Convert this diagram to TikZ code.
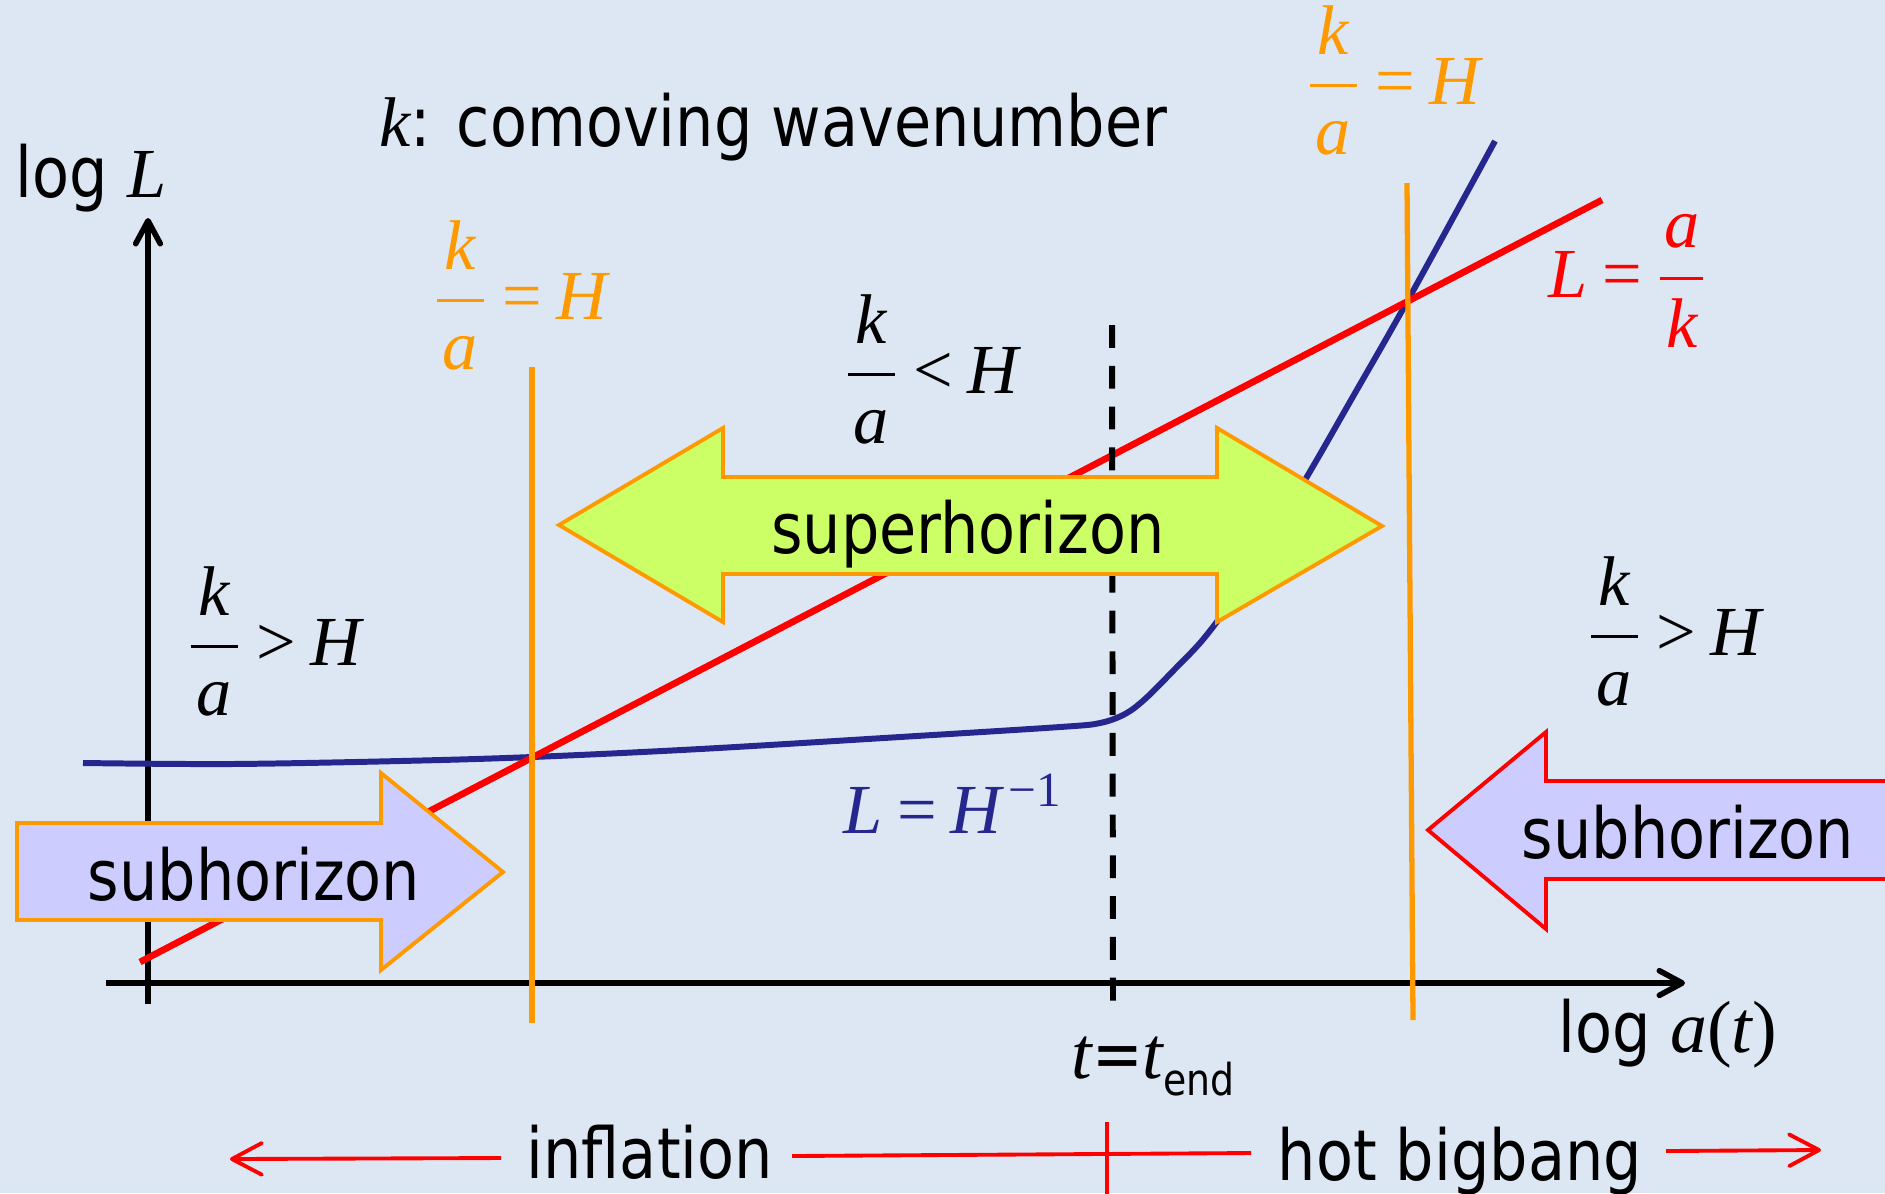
\documentclass[tikz,border=0pt]{standalone}
\usepackage{amsmath}
\usepackage{fontspec}
\setmainfont{DejaVu Sans}[FakeStretch=0.86]
\newfontfamily\tms{Liberation Serif}
\usetikzlibrary{arrows.meta}
\definecolor{bgblue}{RGB}{220,231,243}
\definecolor{org}{RGB}{255,153,0}
\definecolor{hblue}{RGB}{38,38,143}
\definecolor{supgreen}{RGB}{204,255,102}
\definecolor{sublav}{RGB}{204,204,255}
\newcommand\mi[1]{\text{\tms\itshape #1}}
\newcommand\mr[1]{\mskip3.5mu\text{\tms #1}\mskip3.5mu}
\newcommand\kfrac[2]{\dfrac{\mi{#1}}{\kern1.7pt\mi{#2}\kern1.7pt}}
\tikzset{
  lbl/.style={font=\fontsize{20}{24}\selectfont, inner sep=0pt},
  axisline/.style={black, line width=1.6pt, -{Straight Barb[length=6.5pt,width=7pt,round]}},
  horizon/.style={org, line width=1.5pt},
  lcurve/.style={red, line width=1.9pt},
  hcurve/.style={hblue, line width=1.7pt},
  tend/.style={black, line width=1.7pt, dash pattern=on 6.5pt off 5.1pt},
  supbox/.style={fill=supgreen, draw=org, line width=1.1pt, line join=miter},
  subboxL/.style={fill=sublav, draw=org, line width=1.1pt, line join=miter},
  subboxR/.style={fill=sublav, draw=red, line width=1.1pt, line join=miter},
  tline/.style={red, line width=1.1pt},
  tarrow/.style={tline, -{Straight Barb[length=8.5pt,width=9pt,round]}},
}
\begin{document}
\begin{tikzpicture}[x=0.01cm, y=-0.01cm]
\useasboundingbox (0,0) rectangle (1885,1193);
\fill[bgblue] (0,0) rectangle (1885,1193);

% axes
\coordinate (yb) at (148,1004);
\coordinate (yt) at (148,218);
\coordinate (xl) at (106,983);
\coordinate (xr) at (1685,983);
\draw[axisline] (yb) -- (yt);
\draw[axisline] (xl) -- (xr);

% Hubble radius curve L = H^{-1}
\draw[hcurve] plot[smooth, tension=0.55] coordinates {(83,763) (230,764) (400,761) (532,757) (700,749) (900,737) (1060,727) (1100,723) (1125,714) (1145,699) (1173,671) (1205,637) (1240,588) (1305,480) (1351,400) (1408,300) (1495,141)};

% physical wavelength L = a/k
\coordinate (rl) at (140,962);
\coordinate (ru) at (1602,200);
\draw[lcurve] (rl) -- (ru);

% end of inflation
\coordinate (dt) at (1112,325);
\coordinate (db) at (1113,1004);
\draw[tend] (dt) -- (db);

% horizon crossings
\coordinate (o1t) at (532,367);
\coordinate (o1b) at (532,1023);
\coordinate (o2t) at (1407,183);
\coordinate (o2b) at (1413,1020);
\draw[horizon] (o1t) -- (o1b);
\draw[horizon] (o2t) -- (o2b);

% superhorizon double arrow
\path[supbox] (559,525) -- (723,428) -- (723,477) -- (1217,477) -- (1217,428) -- (1382,526) -- (1217,622) -- (1217,574) -- (723,574) -- (723,622) -- cycle;
\node[lbl, anchor=base] (sup) at (968,553) {superhorizon};

% left subhorizon arrow
\path[subboxL] (17,823) -- (381,823) -- (381,773) -- (503,872) -- (381,970) -- (381,920) -- (17,920) -- cycle;
\node[lbl, anchor=base] (subL) at (254,900) {subhorizon};

% right subhorizon arrow
\path[subboxR] (1886,781) -- (1546,781) -- (1546,732) -- (1428,830) -- (1546,929) -- (1546,879) -- (1886,879);
\node[lbl, anchor=base] (subR) at (1688,858) {subhorizon};

% labels
\node[lbl, anchor=base west] (title) at (379,146) {{\tms\itshape k}: comoving wavenumber};
\node[lbl, anchor=base west] (logL) at (15,197) {log {\tms\itshape L}};
\node[lbl, anchor=base west] (loga) at (1558,1052) {log {\fontsize{21}{24}\selectfont\tms{\itshape a}({\itshape t})}};
\node[lbl, anchor=base west] (tend) at (1071,1078) {{\fontsize{21}{24}\selectfont\tms\itshape t}={\fontsize{21}{24}\selectfont\tms\itshape t}\raisebox{-0.17cm}{\fontsize{12.5}{14}\selectfont end}};

\node[lbl, org, anchor=base west] (cross1) at (432,319) {$\kfrac{k}{a}\mr{=}\mi{H}$};
\node[lbl, org, anchor=base west] (cross2) at (1305,104) {$\kfrac{k}{a}\mr{=}\mi{H}$};
\node[lbl, anchor=base west] (inside) at (843,393) {$\kfrac{k}{a}\mr{<}\mi{H}$};
\node[lbl, anchor=base west] (outL) at (186,665) {$\kfrac{k}{a}\mr{>}\mi{H}$};
\node[lbl, anchor=base west] (outR) at (1586,655) {$\kfrac{k}{a}\mr{>}\mi{H}$};
\node[lbl, red, anchor=base west] (Lak) at (1548,297) {$\mi{L}\mr{=}\kfrac{a}{k}$};
\node[lbl, hblue, anchor=base west] (LH) at (843,833) {$\mi{L}\mr{=}\mi{H}^{\kern2pt\text{\tms −1}}$};

% time line
\coordinate (a1s) at (501,1158);
\coordinate (a1e) at (230,1159);
\coordinate (m1) at (792,1156);
\coordinate (m2) at (1251,1153);
\coordinate (a2s) at (1666,1151);
\coordinate (a2e) at (1821,1150);
\coordinate (tk1) at (1107,1122);
\coordinate (tk2) at (1107,1195);
\draw[tarrow] (a1s) -- (a1e);
\draw[tline] (m1) -- (m2);
\draw[tline] (tk1) -- (tk2);
\draw[tarrow] (a2s) -- (a2e);
\node[lbl, anchor=base west] (infl) at (526,1178) {inflation};
\node[lbl, anchor=base west] (hbb) at (1277,1180) {hot bigbang};
\end{tikzpicture}
\end{document}
